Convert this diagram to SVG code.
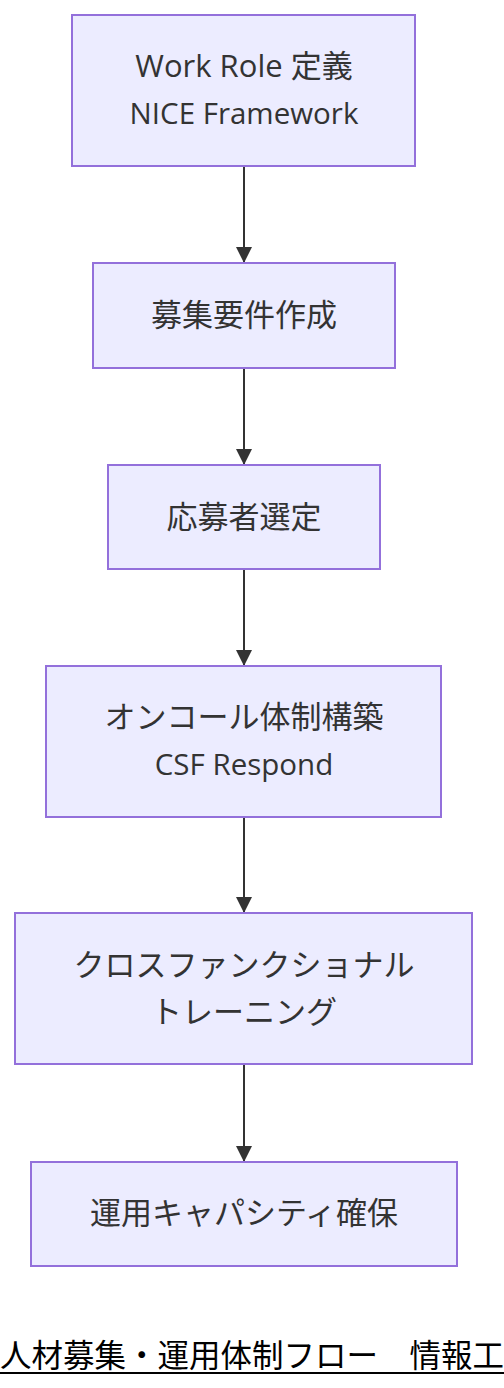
<svg xmlns="http://www.w3.org/2000/svg" width="504" height="1388" viewBox="0 0 504 1388">
<style>
.n rect{fill:#ECECFF;stroke:#9370DB;stroke-width:2}
.n text{font-family:"Open Sans","Noto Sans CJK JP",sans-serif;font-size:31px;fill:#333;text-anchor:middle}
.n text.l{font-size:29.5px}
.e line{stroke:#333;stroke-width:2}
.t{font-family:"Noto Sans CJK JP",sans-serif;font-size:31.5px;fill:#000}
</style>
<defs>
<marker id="ah" viewBox="0 0 10 10" refX="10" refY="5" markerWidth="16" markerHeight="16" markerUnits="userSpaceOnUse" orient="auto"><path d="M0,0L10,5L0,10z" fill="#333"/></marker>
</defs>
<g id="edges" class="e">
<line x1="244" y1="166" x2="244" y2="263" marker-end="url(#ah)"/>
<line x1="244" y1="368" x2="244" y2="465" marker-end="url(#ah)"/>
<line x1="244" y1="569" x2="244" y2="666" marker-end="url(#ah)"/>
<line x1="244" y1="817" x2="244" y2="913" marker-end="url(#ah)"/>
<line x1="244" y1="1064" x2="244" y2="1162" marker-end="url(#ah)"/>
</g>
<g id="n1" class="n"><rect x="72" y="15" width="343" height="151"/><text x="244" y="77">Work Role 定義</text><text class="l" x="244" y="124">NICE Framework</text></g>
<g id="n2" class="n"><rect x="93" y="263" width="302" height="105"/><text x="244" y="326">募集要件作成</text></g>
<g id="n3" class="n"><rect x="108" y="465" width="272" height="104"/><text x="244" y="528">応募者選定</text></g>
<g id="n4" class="n"><rect x="46" y="666" width="395" height="151"/><text x="244" y="728">オンコール体制構築</text><text class="l" x="244" y="775">CSF Respond</text></g>
<g id="n5" class="n"><rect x="15" y="913" width="457" height="151"/><text x="244" y="976">クロスファンクショナル</text><text x="244" y="1023">トレーニング</text></g>
<g id="n6" class="n"><rect x="31" y="1162" width="426" height="104"/><text x="244" y="1224">運用キャパシティ確保</text></g>
<g id="title"><text class="t" x="0" y="1367">人材募集・運用体制フロー　情報工</text><line x1="0" y1="1373" x2="504" y2="1373" stroke="#000" stroke-width="2"/></g>
</svg>
